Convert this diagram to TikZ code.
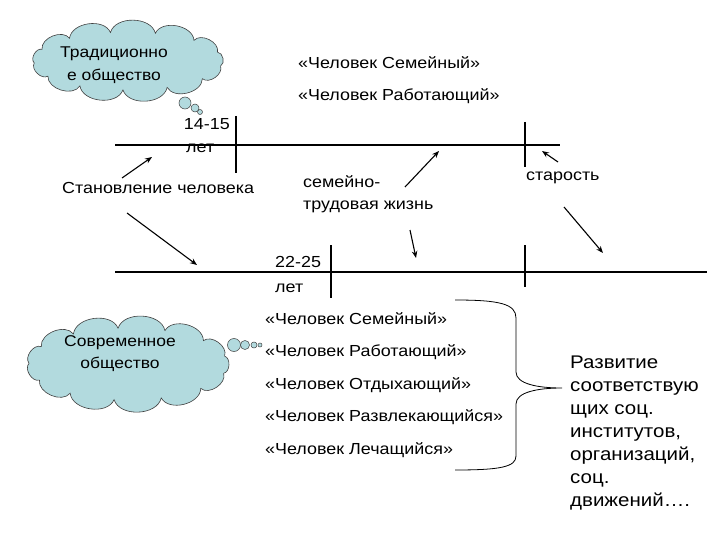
\documentclass[tikz,border=0pt]{standalone}
\usepackage{fontspec}
\setmainfont{Liberation Sans}[FakeStretch=1.12]
\usetikzlibrary{arrows.meta}
\definecolor{cloudblue}{RGB}{178,218,222}
\begin{document}
\begin{tikzpicture}[x=1pt,y=-1pt,
 txt/.style={inner sep=0pt, anchor=west, font=\fontsize{16}{22}\selectfont, text height=11pt, text depth=3pt},
 ctxt/.style={inner sep=0pt, align=center, font=\fontsize{15.6}{23}\selectfont},
 tline/.style={line width=1.1pt},
 arr/.style={line width=1.1pt,-{Stealth[length=7pt,width=5.5pt]}},
 cloudline/.style={draw=black!75, line width=0.6pt, fill=cloudblue},
 bubble/.style={circle, draw=black!75, fill=cloudblue, line width=0.5pt, inner sep=0pt}
]
\useasboundingbox (0,0) rectangle (720,540);

% clouds
\node[bubble, minimum size=5pt] (bA3) at (200,112) {};
\node[bubble, minimum size=8pt] (bA2) at (195,108) {};
\node[bubble, minimum size=12pt] (bA1) at (185,103) {};
\path[cloudline] ({128+94*cos(10)},{61+29*sin(10)})
  \foreach \i in {1,...,13} { to[bend left=75] ({128+94*cos(10+\i*360/13)},{61+29*sin(10+\i*360/13)}) } -- cycle;
\node[ctxt] (cloudAtext) at (114,65) {Традиционно\\е общество};

\node[bubble, minimum size=4pt] (bB4) at (260,345) {};
\node[bubble, minimum size=6pt] (bB3) at (254,345) {};
\node[bubble, minimum size=9pt] (bB2) at (245,345) {};
\node[bubble, minimum size=13pt] (bB1) at (234,345) {};
\path[cloudline] ({128+99*cos(15)},{364+36*sin(15)})
  \foreach \i in {1,...,13} { to[bend left=75] ({128+99*cos(15+\i*360/13)},{364+36*sin(15+\i*360/13)}) } -- cycle;
\node[ctxt, font=\fontsize{15.6}{22}\selectfont] (cloudBtext) at (120,354) {Современное\\общество};

% top texts
\node[txt] (ts) at (298,65) {«Человек Семейный»};
\node[txt] (tr) at (298,97) {«Человек Работающий»};

% upper timeline
\coordinate (u1) at (115,145);
\coordinate (u2) at (560,145);
\draw[tline] (u1) -- (u2);
\coordinate (ut1a) at (236,116); \coordinate (ut1b) at (236,173);
\draw[tline] (ut1a) -- (ut1b);
\coordinate (ut2a) at (525,122); \coordinate (ut2b) at (525,167);
\draw[tline] (ut2a) -- (ut2b);
\node[txt, anchor=east] (a1415) at (230,126) {14-15};
\node[txt] (alet1) at (186,149) {лет};

% lower timeline
\coordinate (l1) at (115,272);
\coordinate (l2) at (707,272);
\draw[tline] (l1) -- (l2);
\coordinate (lt1a) at (331,245); \coordinate (lt1b) at (331,298);
\draw[tline] (lt1a) -- (lt1b);
\coordinate (lt2a) at (525,245); \coordinate (lt2b) at (525,287);
\draw[tline] (lt2a) -- (lt2b);
\node[txt] (a2225) at (275,263) {22-25};
\node[txt] (alet2) at (275,288) {лет};

% labels
\node[txt] (stan) at (62,190) {Становление человека};
\node[txt, align=left, text height=, text depth=] (sem) at (303,194) {семейно-\\трудовая жизнь};
\node[txt] (star) at (526,177) {старость};

% arrows
\coordinate (s1) at (122,178); \coordinate (e1) at (152,157);
\draw[arr] (s1) -- (e1);
\coordinate (s2) at (127,213); \coordinate (e2) at (197,265);
\draw[arr] (s2) -- (e2);
\coordinate (s3) at (405,187); \coordinate (e3) at (439,151);
\draw[arr] (s3) -- (e3);
\coordinate (s4) at (410,230); \coordinate (e4) at (416,258);
\draw[arr] (s4) -- (e4);
\coordinate (s5) at (558,162); \coordinate (e5) at (542,151);
\draw[arr] (s5) -- (e5);
\coordinate (s6) at (564,207); \coordinate (e6) at (603,253);
\draw[arr] (s6) -- (e6);

% list
\node[txt] (m1) at (265,320) {«Человек Семейный»};
\node[txt] (m2) at (265,352) {«Человек Работающий»};
\node[txt] (m3) at (265,385) {«Человек Отдыхающий»};
\node[txt] (m4) at (265,417) {«Человек Развлекающийся»};
\node[txt] (m5) at (265,450) {«Человек Лечащийся»};

% brace
\coordinate (bt) at (455,300);
\coordinate (btip) at (562,388);
\coordinate (bb) at (455,470);
\draw[line width=0.8pt] (bt) .. controls (500,300) and (516,304) .. (516,318) -- (516,372)
  .. controls (516,384) and (538,388) .. (btip)
  .. controls (538,388) and (516,392) .. (516,404) -- (516,456)
  .. controls (516,467) and (500,470) .. (bb);

% right text
\node[anchor=west, align=left, inner sep=0pt, font=\fontsize{18.3}{23}\selectfont] (dev) at (570,433)
 {Развитие\\соответствую\\щих соц.\\институтов,\\организаций,\\соц.\\движений….};
\end{tikzpicture}
\end{document}
